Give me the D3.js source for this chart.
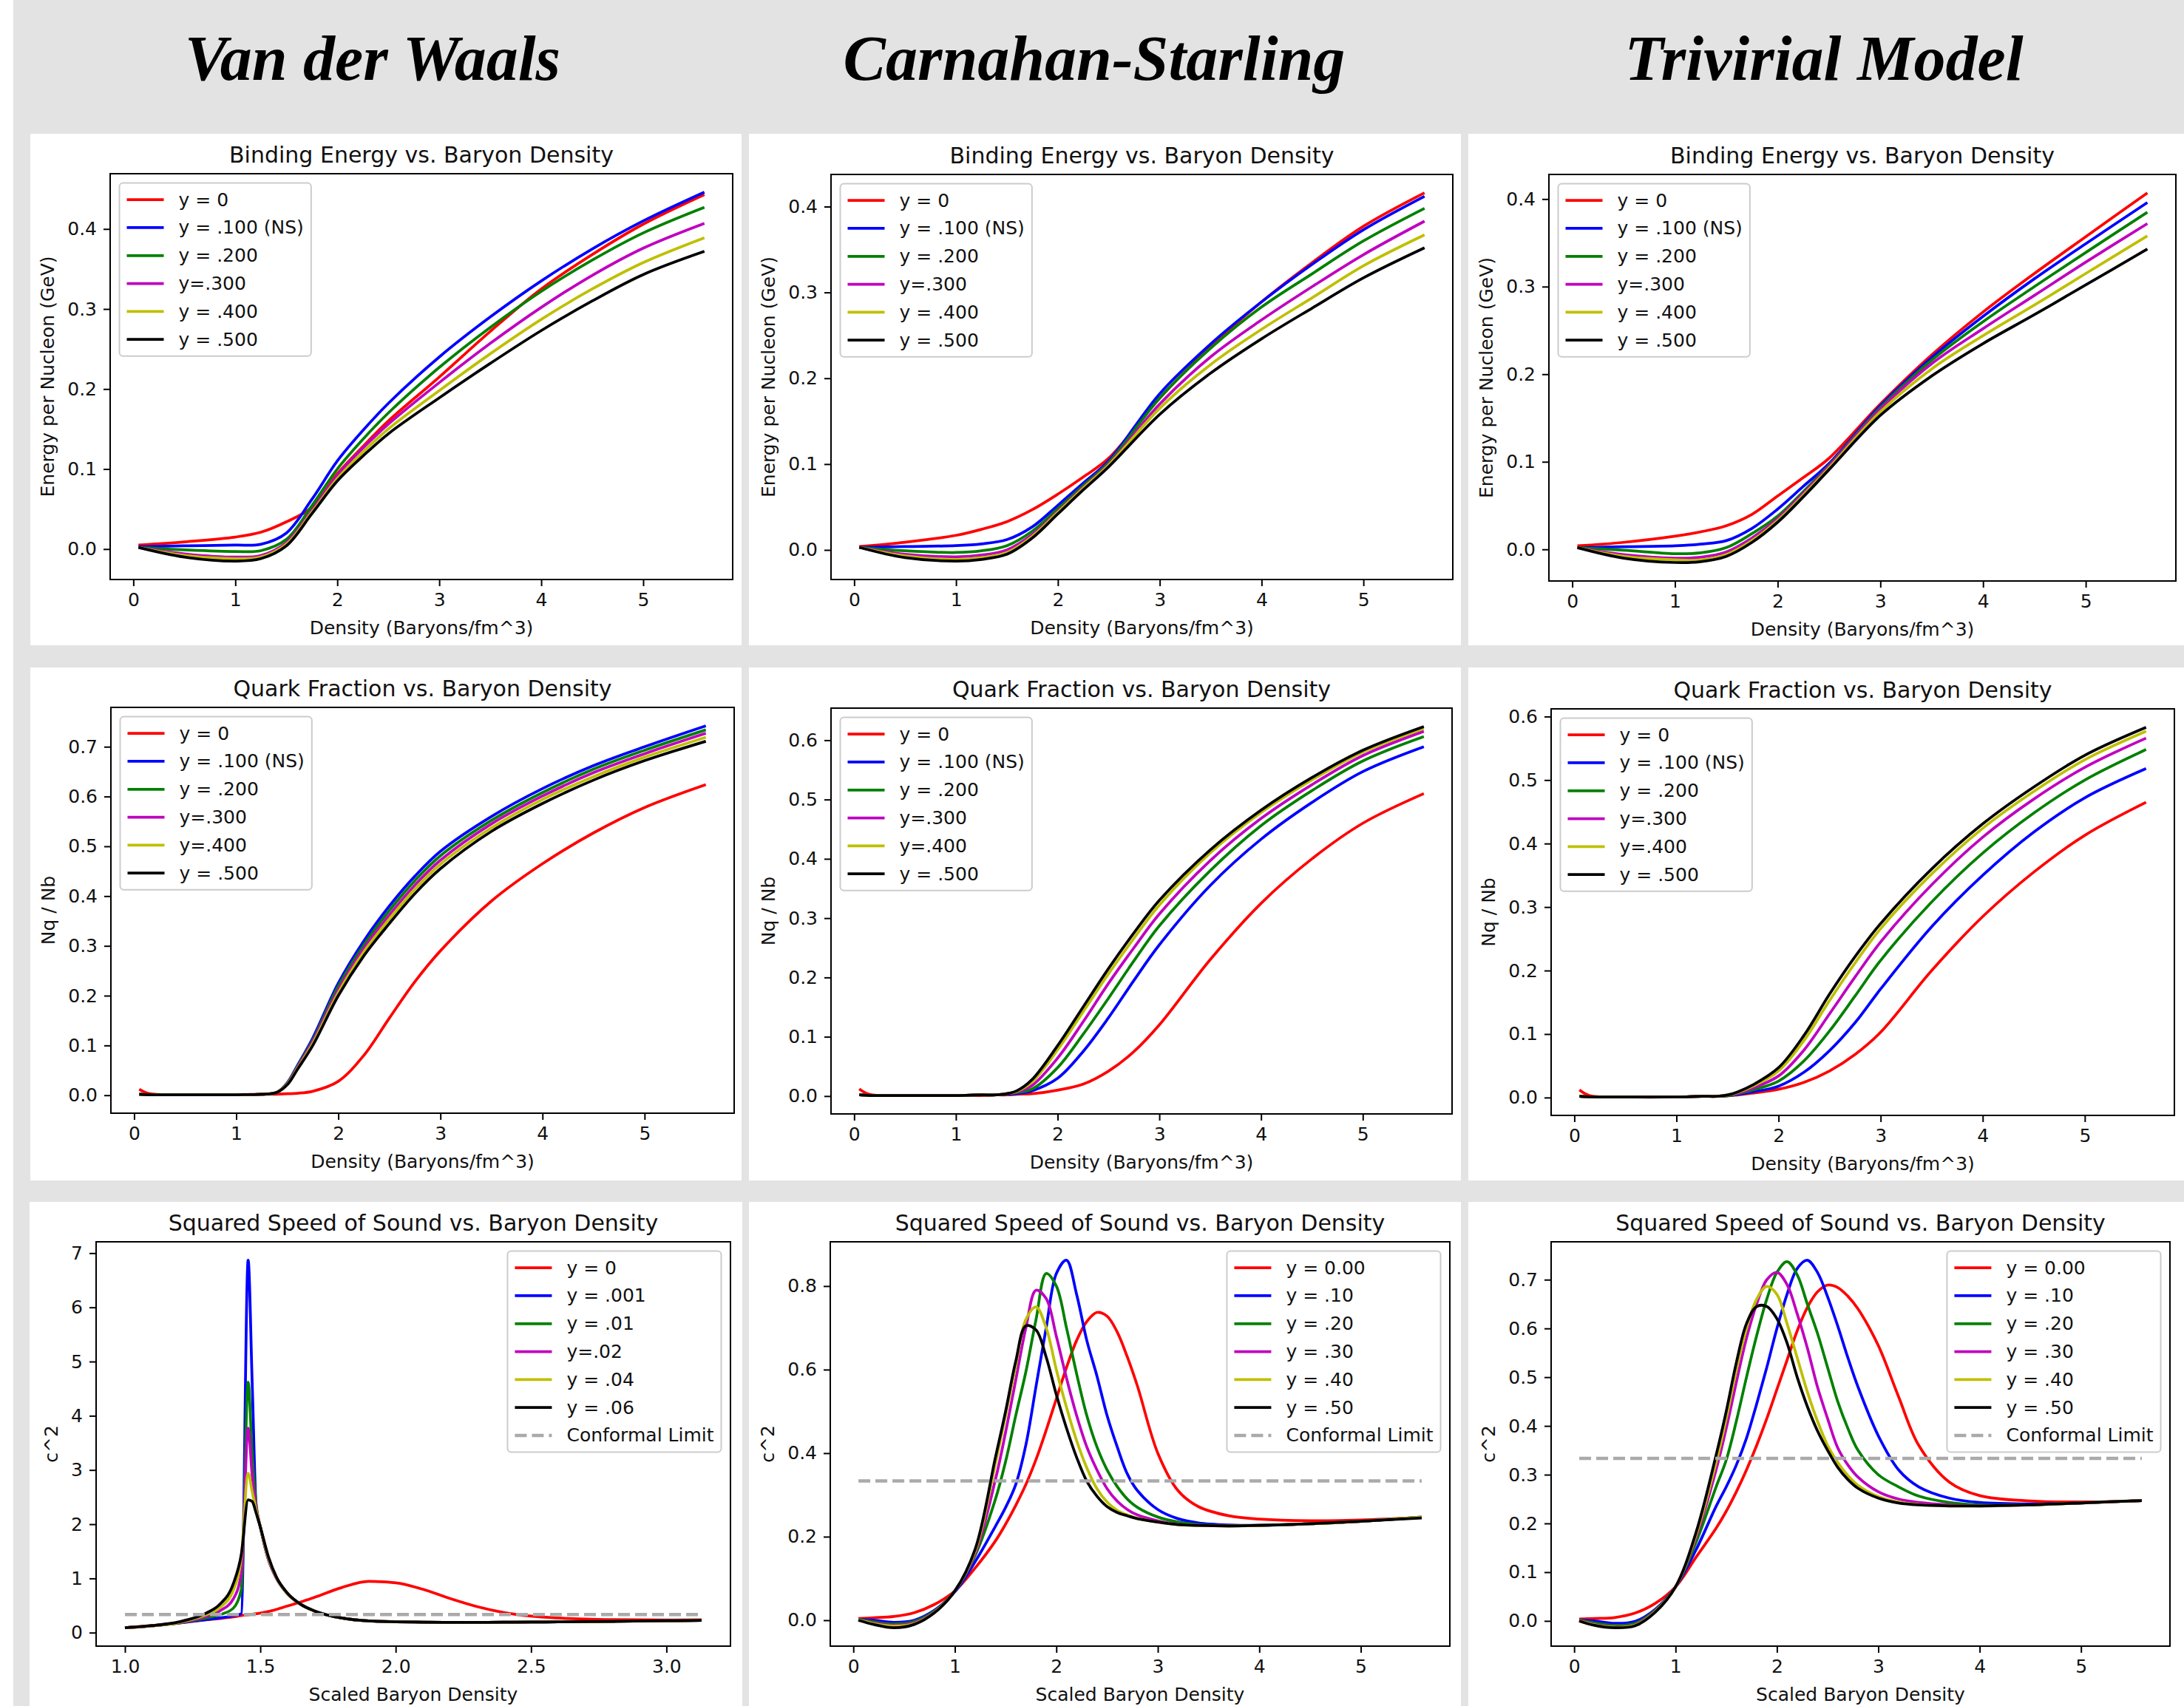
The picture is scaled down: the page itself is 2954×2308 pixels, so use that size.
<!DOCTYPE html>
<html>
<head>
<meta charset="utf-8">
<script src="https://cdn.jsdelivr.net/npm/d3@7"></script>
<style>
  body { margin: 0; background: #e3e3e3; }
  svg text { font-family: "DejaVu Sans", sans-serif; }
</style>
</head>
<body>
<svg id="fig" width="2954" height="2308"></svg>
<script>
// ---- data ----
const modelNames = ["Van der Waals", "Carnahan-Starling", "Trivirial Model"];
const seriesColors = ["#ff0000", "#0000ff", "#008000", "#bf00bf", "#bfbf00", "#000000"];

const bindingLabels = ["y = 0", "y = .100 (NS)", "y = .200", "y=.300", "y = .400", "y = .500"];
const quarkLabels = ["y = 0", "y = .100 (NS)", "y = .200", "y=.300", "y=.400", "y = .500"];
const soundLabelsVdw = ["y = 0", "y = .001", "y = .01", "y=.02", "y = .04", "y = .06"];
const soundLabels = ["y = 0.00", "y = .10", "y = .20", "y = .30", "y = .40", "y = .50"];
const conformalLabel = "Conformal Limit";
const conformalValue = 1 / 3;

// binding energy per nucleon (GeV)
const bindingX = [0.05, 0.5, 1.0, 1.25, 1.5, 1.75, 2.0, 2.25, 2.5, 3.0, 3.5, 4.0, 4.5, 5.0, 5.6];
const bindingVdw = [
  [0.005, 0.009, 0.015, 0.021, 0.034, 0.052, 0.094, 0.128, 0.160, 0.215, 0.272, 0.325, 0.368, 0.406, 0.443],
  [0.003, 0.004, 0.005, 0.006, 0.020, 0.062, 0.110, 0.148, 0.182, 0.240, 0.290, 0.335, 0.375, 0.410, 0.446],
  [0.002, -0.001, -0.003, -0.002, 0.012, 0.054, 0.100, 0.137, 0.170, 0.227, 0.277, 0.322, 0.361, 0.395, 0.427],
  [0.002, -0.006, -0.010, -0.008, 0.008, 0.048, 0.092, 0.126, 0.156, 0.208, 0.257, 0.302, 0.342, 0.376, 0.407],
  [0.002, -0.008, -0.012, -0.010, 0.006, 0.046, 0.088, 0.121, 0.150, 0.198, 0.244, 0.287, 0.325, 0.358, 0.389],
  [0.002, -0.010, -0.015, -0.012, 0.004, 0.044, 0.085, 0.116, 0.144, 0.189, 0.232, 0.273, 0.310, 0.343, 0.372]
];
const bindingCS = [
  [0.004, 0.009, 0.017, 0.024, 0.033, 0.047, 0.065, 0.085, 0.107, 0.177, 0.237, 0.289, 0.335, 0.377, 0.416],
  [0.003, 0.004, 0.005, 0.007, 0.012, 0.027, 0.052, 0.078, 0.104, 0.182, 0.240, 0.289, 0.333, 0.373, 0.412],
  [0.003, -0.001, -0.003, -0.001, 0.005, 0.022, 0.048, 0.075, 0.102, 0.177, 0.235, 0.283, 0.322, 0.360, 0.398],
  [0.003, -0.005, -0.008, -0.006, 0.000, 0.018, 0.045, 0.073, 0.100, 0.170, 0.225, 0.268, 0.307, 0.344, 0.383],
  [0.003, -0.007, -0.011, -0.009, -0.003, 0.016, 0.044, 0.072, 0.099, 0.165, 0.216, 0.257, 0.294, 0.331, 0.367],
  [0.003, -0.009, -0.013, -0.011, -0.005, 0.014, 0.042, 0.070, 0.097, 0.158, 0.206, 0.246, 0.282, 0.317, 0.352]
];
const bindingTrivial = [
  [0.004, 0.008, 0.015, 0.020, 0.027, 0.040, 0.061, 0.082, 0.104, 0.166, 0.222, 0.271, 0.315, 0.357, 0.407],
  [0.002, 0.003, 0.004, 0.006, 0.010, 0.024, 0.046, 0.072, 0.098, 0.164, 0.219, 0.266, 0.309, 0.349, 0.396],
  [0.002, -0.001, -0.005, -0.004, 0.002, 0.018, 0.038, 0.066, 0.096, 0.162, 0.216, 0.260, 0.300, 0.339, 0.385],
  [0.002, -0.006, -0.010, -0.009, -0.003, 0.013, 0.035, 0.064, 0.095, 0.160, 0.212, 0.252, 0.290, 0.328, 0.372],
  [0.002, -0.008, -0.012, -0.012, -0.006, 0.010, 0.033, 0.062, 0.093, 0.157, 0.206, 0.244, 0.279, 0.315, 0.358],
  [0.002, -0.010, -0.015, -0.014, -0.008, 0.008, 0.031, 0.060, 0.091, 0.153, 0.198, 0.235, 0.268, 0.302, 0.343]
];

// quark fraction Nq / Nb
const quarkX = [0.05, 0.15, 0.5, 1.0, 1.25, 1.4, 1.5, 1.6, 1.75, 2.0, 2.25, 2.5, 2.75, 3.0, 3.5, 4.0, 4.5, 5.0, 5.6];
const quarkVdw = [
  [0.012, 0.003, 0.001, 0.001, 0.002, 0.002, 0.003, 0.004, 0.008, 0.028, 0.080, 0.155, 0.228, 0.290, 0.390, 0.465, 0.527, 0.578, 0.624],
  [0.002, 0.001, 0.001, 0.001, 0.002, 0.006, 0.025, 0.060, 0.115, 0.225, 0.310, 0.380, 0.440, 0.490, 0.560, 0.616, 0.662, 0.700, 0.742],
  [0.002, 0.001, 0.001, 0.001, 0.002, 0.006, 0.024, 0.058, 0.111, 0.219, 0.302, 0.371, 0.431, 0.481, 0.552, 0.608, 0.655, 0.693, 0.734],
  [0.002, 0.001, 0.001, 0.001, 0.002, 0.006, 0.023, 0.056, 0.108, 0.212, 0.295, 0.362, 0.422, 0.472, 0.545, 0.601, 0.648, 0.686, 0.727],
  [0.002, 0.001, 0.001, 0.001, 0.002, 0.006, 0.022, 0.054, 0.104, 0.206, 0.288, 0.354, 0.414, 0.464, 0.537, 0.594, 0.640, 0.679, 0.719],
  [0.002, 0.001, 0.001, 0.001, 0.002, 0.006, 0.021, 0.052, 0.100, 0.200, 0.280, 0.345, 0.405, 0.455, 0.530, 0.586, 0.633, 0.672, 0.711]
];
const quarkCS = [
  [0.012, 0.003, 0.001, 0.001, 0.001, 0.002, 0.002, 0.003, 0.004, 0.010, 0.020, 0.042, 0.075, 0.120, 0.230, 0.325, 0.400, 0.460, 0.510],
  [0.002, 0.001, 0.001, 0.001, 0.002, 0.002, 0.003, 0.004, 0.009, 0.030, 0.075, 0.132, 0.195, 0.255, 0.355, 0.433, 0.495, 0.547, 0.589],
  [0.002, 0.001, 0.001, 0.001, 0.002, 0.002, 0.004, 0.006, 0.012, 0.048, 0.104, 0.165, 0.228, 0.287, 0.380, 0.456, 0.515, 0.565, 0.606],
  [0.002, 0.001, 0.001, 0.001, 0.002, 0.002, 0.004, 0.007, 0.018, 0.064, 0.125, 0.190, 0.250, 0.307, 0.397, 0.468, 0.525, 0.574, 0.615],
  [0.002, 0.001, 0.001, 0.001, 0.002, 0.002, 0.004, 0.008, 0.024, 0.078, 0.142, 0.206, 0.266, 0.322, 0.410, 0.478, 0.533, 0.580, 0.620],
  [0.002, 0.001, 0.001, 0.001, 0.002, 0.002, 0.004, 0.009, 0.028, 0.085, 0.150, 0.215, 0.275, 0.330, 0.415, 0.482, 0.537, 0.583, 0.623]
];
const quarkTrivial = [
  [0.012, 0.003, 0.001, 0.001, 0.002, 0.002, 0.003, 0.004, 0.007, 0.013, 0.024, 0.042, 0.068, 0.103, 0.200, 0.285, 0.355, 0.413, 0.465],
  [0.002, 0.001, 0.001, 0.001, 0.002, 0.002, 0.003, 0.005, 0.009, 0.018, 0.040, 0.074, 0.118, 0.171, 0.269, 0.350, 0.418, 0.472, 0.518],
  [0.002, 0.001, 0.001, 0.001, 0.002, 0.002, 0.003, 0.006, 0.012, 0.026, 0.058, 0.105, 0.160, 0.216, 0.308, 0.385, 0.448, 0.500, 0.548],
  [0.002, 0.001, 0.001, 0.001, 0.002, 0.002, 0.004, 0.007, 0.015, 0.034, 0.075, 0.132, 0.190, 0.245, 0.335, 0.410, 0.470, 0.520, 0.566],
  [0.002, 0.001, 0.001, 0.001, 0.002, 0.002, 0.004, 0.008, 0.018, 0.042, 0.090, 0.153, 0.212, 0.266, 0.352, 0.424, 0.482, 0.532, 0.577],
  [0.002, 0.001, 0.001, 0.001, 0.002, 0.002, 0.004, 0.009, 0.020, 0.047, 0.098, 0.163, 0.222, 0.274, 0.360, 0.431, 0.489, 0.539, 0.583]
];

// squared speed of sound c^2
const soundXVdw = [1.0, 1.1, 1.2, 1.3, 1.35, 1.4, 1.43, 1.455, 1.47, 1.485, 1.5, 1.53, 1.56, 1.6, 1.65, 1.7, 1.8, 1.9, 2.0, 2.1, 2.2, 2.3, 2.4, 2.5, 2.6, 2.8, 3.0, 3.13];
const soundVdw = [
  [0.09, 0.13, 0.18, 0.235, 0.26, 0.29, 0.315, 0.33, 0.34, 0.35, 0.36, 0.39, 0.43, 0.49, 0.565, 0.65, 0.83, 0.945, 0.92, 0.80, 0.63, 0.48, 0.37, 0.305, 0.27, 0.24, 0.232, 0.238],
  [0.09, 0.125, 0.18, 0.24, 0.27, 0.31, 0.35, 6.87, 4.6, 2.3, 1.95, 1.35, 1.0, 0.72, 0.52, 0.40, 0.27, 0.215, 0.20, 0.193, 0.19, 0.19, 0.192, 0.195, 0.198, 0.207, 0.218, 0.228],
  [0.09, 0.125, 0.18, 0.27, 0.33, 0.45, 0.80, 4.62, 3.3, 2.35, 1.95, 1.35, 1.0, 0.72, 0.52, 0.40, 0.27, 0.215, 0.20, 0.193, 0.19, 0.19, 0.192, 0.195, 0.198, 0.207, 0.218, 0.228],
  [0.09, 0.125, 0.185, 0.30, 0.40, 0.62, 1.10, 3.77, 2.9, 2.3, 1.95, 1.35, 1.0, 0.72, 0.52, 0.40, 0.27, 0.215, 0.20, 0.193, 0.19, 0.19, 0.192, 0.195, 0.198, 0.207, 0.218, 0.228],
  [0.09, 0.125, 0.19, 0.33, 0.46, 0.78, 1.40, 2.94, 2.6, 2.25, 1.95, 1.37, 1.01, 0.72, 0.52, 0.40, 0.27, 0.215, 0.20, 0.193, 0.19, 0.19, 0.192, 0.195, 0.198, 0.207, 0.218, 0.228],
  [0.09, 0.13, 0.20, 0.36, 0.52, 0.90, 1.45, 2.45, 2.42, 2.2, 1.95, 1.40, 1.02, 0.73, 0.52, 0.40, 0.27, 0.215, 0.20, 0.193, 0.19, 0.19, 0.192, 0.195, 0.198, 0.207, 0.218, 0.228]
];
const soundX = [0.05, 0.2, 0.4, 0.6, 0.8, 1.0, 1.2, 1.4, 1.5, 1.6, 1.7, 1.8, 1.9, 2.0, 2.1, 2.2, 2.3, 2.4, 2.5, 2.6, 2.7, 2.8, 3.0, 3.2, 3.4, 3.7, 4.0, 4.5, 5.0, 5.6];
const soundCS = [
  [0.004, 0.006, 0.009, 0.018, 0.038, 0.07, 0.125, 0.19, 0.23, 0.275, 0.325, 0.385, 0.455, 0.53, 0.605, 0.67, 0.715, 0.737, 0.728, 0.69, 0.63, 0.56, 0.40, 0.31, 0.272, 0.25, 0.242, 0.238, 0.24, 0.246],
  [0.002, 0.0, -0.005, 0.0, 0.024, 0.068, 0.14, 0.225, 0.27, 0.325, 0.42, 0.56, 0.70, 0.83, 0.862, 0.78, 0.67, 0.585, 0.49, 0.415, 0.35, 0.31, 0.265, 0.243, 0.233, 0.228, 0.227, 0.231, 0.237, 0.246],
  [0.002, -0.004, -0.009, -0.003, 0.022, 0.07, 0.155, 0.29, 0.38, 0.49, 0.595, 0.72, 0.83, 0.80, 0.70, 0.59, 0.49, 0.415, 0.36, 0.32, 0.29, 0.27, 0.247, 0.235, 0.229, 0.226, 0.227, 0.231, 0.237, 0.247],
  [0.001, -0.007, -0.012, -0.006, 0.02, 0.07, 0.16, 0.337, 0.45, 0.575, 0.70, 0.79, 0.77, 0.68, 0.58, 0.49, 0.415, 0.36, 0.315, 0.285, 0.265, 0.252, 0.238, 0.23, 0.227, 0.226, 0.227, 0.231, 0.237, 0.247],
  [0.001, -0.008, -0.014, -0.008, 0.019, 0.07, 0.165, 0.375, 0.49, 0.61, 0.72, 0.75, 0.70, 0.60, 0.51, 0.43, 0.365, 0.315, 0.283, 0.263, 0.252, 0.244, 0.235, 0.229, 0.227, 0.226, 0.227, 0.231, 0.237, 0.247],
  [0.0, -0.01, -0.018, -0.01, 0.018, 0.07, 0.17, 0.39, 0.50, 0.62, 0.705, 0.695, 0.63, 0.54, 0.46, 0.39, 0.333, 0.297, 0.272, 0.258, 0.25, 0.243, 0.235, 0.229, 0.227, 0.226, 0.227, 0.231, 0.237, 0.245]
];
const soundTrivial = [
  [0.004, 0.005, 0.007, 0.016, 0.036, 0.07, 0.13, 0.19, 0.225, 0.265, 0.31, 0.36, 0.415, 0.475, 0.535, 0.595, 0.643, 0.675, 0.689, 0.684, 0.666, 0.64, 0.565, 0.46, 0.36, 0.285, 0.257, 0.246, 0.244, 0.247],
  [0.002, 0.0, -0.005, -0.001, 0.024, 0.07, 0.145, 0.235, 0.275, 0.32, 0.375, 0.445, 0.52, 0.60, 0.67, 0.723, 0.74, 0.715, 0.665, 0.605, 0.54, 0.48, 0.38, 0.31, 0.275, 0.252, 0.243, 0.24, 0.242, 0.247],
  [0.002, -0.004, -0.009, -0.005, 0.022, 0.07, 0.16, 0.275, 0.33, 0.41, 0.50, 0.585, 0.66, 0.715, 0.737, 0.71, 0.65, 0.59, 0.52, 0.45, 0.395, 0.35, 0.30, 0.275, 0.256, 0.243, 0.238, 0.238, 0.242, 0.247],
  [0.001, -0.007, -0.012, -0.008, 0.02, 0.07, 0.17, 0.31, 0.395, 0.49, 0.58, 0.65, 0.70, 0.715, 0.69, 0.63, 0.56, 0.48, 0.415, 0.355, 0.32, 0.295, 0.265, 0.25, 0.243, 0.238, 0.236, 0.238, 0.242, 0.247],
  [0.0, -0.008, -0.013, -0.009, 0.019, 0.07, 0.175, 0.325, 0.415, 0.515, 0.60, 0.66, 0.686, 0.67, 0.61, 0.54, 0.47, 0.41, 0.36, 0.325, 0.298, 0.278, 0.255, 0.244, 0.239, 0.236, 0.236, 0.238, 0.242, 0.247],
  [0.0, -0.009, -0.014, -0.01, 0.018, 0.07, 0.18, 0.34, 0.43, 0.53, 0.61, 0.645, 0.645, 0.62, 0.57, 0.50, 0.44, 0.39, 0.35, 0.315, 0.29, 0.272, 0.252, 0.242, 0.238, 0.236, 0.236, 0.238, 0.242, 0.247]
];

// tick values
const densityTicks = [0, 1, 2, 3, 4, 5];
const scaledTicksVdw = [1.0, 1.5, 2.0, 2.5, 3.0];
const bindingTicks = [0.0, 0.1, 0.2, 0.3, 0.4];
const quarkTicksVdw = [0.0, 0.1, 0.2, 0.3, 0.4, 0.5, 0.6, 0.7];
const quarkTicks = [0.0, 0.1, 0.2, 0.3, 0.4, 0.5, 0.6];
const soundTicksVdw = [0, 1, 2, 3, 4, 5, 6, 7];
const soundTicksCS = [0.0, 0.2, 0.4, 0.6, 0.8];
const soundTicksTrivial = [0.0, 0.1, 0.2, 0.3, 0.4, 0.5, 0.6, 0.7];

// ---- layout (pixel boxes of each sub-figure) ----
const headerPos = [[504, 108], [1480, 108], [2467, 108]];
const boxes = [
  { panel: [41, 181, 1003, 873],    axes: [149, 235, 991, 784] },
  { panel: [1013, 181, 1976, 873],  axes: [1124, 236, 1965, 784] },
  { panel: [1986, 181, 2954, 873],  axes: [2095, 236, 2943, 786] },
  { panel: [41, 903, 1003, 1597],   axes: [150, 957, 993, 1506] },
  { panel: [1013, 903, 1976, 1597], axes: [1124, 958, 1964, 1507] },
  { panel: [1986, 903, 2954, 1597], axes: [2098, 959, 2941, 1509] },
  { panel: [40, 1626, 1004, 2308],  axes: [130, 1680, 988, 2227] },
  { panel: [1013, 1626, 1976, 2308], axes: [1123, 1680, 1961, 2227] },
  { panel: [1986, 1626, 2954, 2308], axes: [2098, 1680, 2935, 2227] }
];

const f1 = d3.format(".1f"), f0 = d3.format("d");
const densityLabel = "Density (Baryons/fm^3)", scaledLabel = "Scaled Baryon Density";
const smooth = d3.curveCatmullRom.alpha(0.5), sharp = d3.curveMonotoneX;

const panels = [
  { title: "Binding Energy vs. Baryon Density", xs: bindingX, series: bindingVdw, labels: bindingLabels, xTicks: densityTicks, xFmt: f0, yTicks: bindingTicks, yFmt: f1, xLabel: densityLabel, yLabel: "Energy per Nucleon (GeV)", loc: "left", curve: smooth },
  { title: "Binding Energy vs. Baryon Density", xs: bindingX, series: bindingCS, labels: bindingLabels, xTicks: densityTicks, xFmt: f0, yTicks: bindingTicks, yFmt: f1, xLabel: densityLabel, yLabel: "Energy per Nucleon (GeV)", loc: "left", curve: smooth },
  { title: "Binding Energy vs. Baryon Density", xs: bindingX, series: bindingTrivial, labels: bindingLabels, xTicks: densityTicks, xFmt: f0, yTicks: bindingTicks, yFmt: f1, xLabel: densityLabel, yLabel: "Energy per Nucleon (GeV)", loc: "left", curve: smooth },
  { title: "Quark Fraction vs. Baryon Density", xs: quarkX, series: quarkVdw, labels: quarkLabels, xTicks: densityTicks, xFmt: f0, yTicks: quarkTicksVdw, yFmt: f1, xLabel: densityLabel, yLabel: "Nq / Nb", loc: "left", curve: smooth },
  { title: "Quark Fraction vs. Baryon Density", xs: quarkX, series: quarkCS, labels: quarkLabels, xTicks: densityTicks, xFmt: f0, yTicks: quarkTicks, yFmt: f1, xLabel: densityLabel, yLabel: "Nq / Nb", loc: "left", curve: smooth },
  { title: "Quark Fraction vs. Baryon Density", xs: quarkX, series: quarkTrivial, labels: quarkLabels, xTicks: densityTicks, xFmt: f0, yTicks: quarkTicks, yFmt: f1, xLabel: densityLabel, yLabel: "Nq / Nb", loc: "left", curve: smooth },
  { title: "Squared Speed of Sound vs. Baryon Density", xs: soundXVdw, series: soundVdw, labels: soundLabelsVdw, xTicks: scaledTicksVdw, xFmt: f1, yTicks: soundTicksVdw, yFmt: f0, xLabel: scaledLabel, yLabel: "c^2", loc: "right", conformal: true, curve: sharp },
  { title: "Squared Speed of Sound vs. Baryon Density", xs: soundX, series: soundCS, labels: soundLabels, xTicks: densityTicks, xFmt: f0, yTicks: soundTicksCS, yFmt: f1, xLabel: scaledLabel, yLabel: "c^2", loc: "right", conformal: true, curve: smooth },
  { title: "Squared Speed of Sound vs. Baryon Density", xs: soundX, series: soundTrivial, labels: soundLabels, xTicks: densityTicks, xFmt: f0, yTicks: soundTicksTrivial, yFmt: f1, xLabel: scaledLabel, yLabel: "c^2", loc: "right", conformal: true, curve: smooth }
];

// ---- drawing ----
const svg = d3.select("#fig");
const FS = 25, TEXT = "#111";
const dashColor = "#aaaaaa", dashPattern = "16,7";

svg.append("rect").attr("width", 2954).attr("height", 2308).attr("fill", "#e3e3e3");
svg.append("rect").attr("width", 18).attr("height", 2308).attr("fill", "#ffffff");

svg.selectAll("text.model").data(modelNames).join("text")
  .attr("class", "model")
  .attr("x", (d, i) => headerPos[i][0])
  .attr("y", (d, i) => headerPos[i][1])
  .attr("text-anchor", "middle")
  .style("font-family", "'Liberation Serif', 'Times New Roman', serif")
  .style("font-weight", "bold")
  .style("font-style", "italic")
  .style("font-size", "86px")
  .attr("fill", "#000")
  .text(d => d);

// matplotlib style 5% margins
function pad5(ext) {
  const m = (ext[1] - ext[0]) * 0.05;
  return [ext[0] - m, ext[1] + m];
}

panels.forEach((cfg, k) => drawPanel(cfg, boxes[k], k));

function drawPanel(cfg, box, k) {
  const [px0, py0, px1, py1] = box.panel;
  const [ax0, ay0, ax1, ay1] = box.axes;
  const g = svg.append("g");

  g.append("rect").attr("x", px0).attr("y", py0)
    .attr("width", px1 - px0).attr("height", py1 - py0).attr("fill", "#fff");

  const allY = cfg.series.flat().concat(cfg.conformal ? [conformalValue] : []);
  const x = d3.scaleLinear().domain(pad5(d3.extent(cfg.xs))).range([ax0, ax1]);
  const y = d3.scaleLinear().domain(pad5(d3.extent(allY))).range([ay1, ay0]);

  const clipId = "clip" + k;
  g.append("clipPath").attr("id", clipId).append("rect")
    .attr("x", ax0).attr("y", ay0).attr("width", ax1 - ax0).attr("height", ay1 - ay0);

  const line = d3.line()
    .x((d, i) => x(cfg.xs[i]))
    .y(d => y(d))
    .curve(cfg.curve);

  const plot = g.append("g").attr("clip-path", `url(#${clipId})`);
  plot.selectAll("path.curve").data(cfg.series).join("path")
    .attr("class", "curve")
    .attr("d", line)
    .attr("fill", "none")
    .attr("stroke", (d, i) => seriesColors[i])
    .attr("stroke-width", 3.75)
    .attr("stroke-linejoin", "round")
    .attr("stroke-linecap", "butt");

  if (cfg.conformal) {
    const xr = d3.extent(cfg.xs);
    plot.append("path")
      .attr("d", d3.line().x(d => x(d[0])).y(d => y(d[1]))([[xr[0], conformalValue], [xr[1], conformalValue]]))
      .attr("fill", "none")
      .attr("stroke", dashColor)
      .attr("stroke-width", 4.5)
      .attr("stroke-dasharray", dashPattern);
  }

  // axes
  const gx = g.append("g").attr("transform", `translate(0,${ay1})`)
    .call(d3.axisBottom(x).tickValues(cfg.xTicks).tickFormat(cfg.xFmt).tickSize(9).tickPadding(9).tickSizeOuter(0));
  const gy = g.append("g").attr("transform", `translate(${ax0},0)`)
    .call(d3.axisLeft(y).tickValues(cfg.yTicks).tickFormat(cfg.yFmt).tickSize(9).tickPadding(9).tickSizeOuter(0));
  [gx, gy].forEach(a => {
    a.select(".domain").remove();
    a.attr("font-size", FS).attr("font-family", "DejaVu Sans");
    a.selectAll(".tick line").attr("stroke", "#000").attr("stroke-width", 2);
    a.selectAll(".tick text").attr("fill", TEXT);
  });

  g.append("rect").attr("x", ax0).attr("y", ay0)
    .attr("width", ax1 - ax0).attr("height", ay1 - ay0)
    .attr("fill", "none").attr("stroke", "#000").attr("stroke-width", 2);

  // title and axis labels
  g.append("text").attr("x", (ax0 + ax1) / 2).attr("y", ay0 - 15)
    .attr("text-anchor", "middle").attr("font-size", 30).attr("fill", TEXT).text(cfg.title);
  g.append("text").attr("x", (ax0 + ax1) / 2).attr("y", ay1 + 74)
    .attr("text-anchor", "middle").attr("font-size", FS).attr("fill", TEXT).text(cfg.xLabel);
  const tickLeft = ax0 + gy.node().getBBox().x;
  g.append("text")
    .attr("transform", `translate(${tickLeft - 18},${(ay0 + ay1) / 2}) rotate(-90)`)
    .attr("text-anchor", "middle").attr("font-size", FS).attr("fill", TEXT).text(cfg.yLabel);

  // legend
  const entries = cfg.labels.map((l, i) => ({ label: l, color: seriesColors[i], dash: null }));
  if (cfg.conformal) entries.push({ label: conformalLabel, color: dashColor, dash: dashPattern });
  const lg = g.append("g");
  const frame = lg.append("rect");
  const texts = lg.selectAll("text").data(entries).join("text")
    .attr("font-size", FS).attr("fill", TEXT).attr("dominant-baseline", "central").text(d => d.label);
  const maxW = d3.max(texts.nodes(), n => n.getComputedTextLength());
  const pad = 10, handle = 50, gap = 20, rowH = 25.3, spacing = 12.5;
  const w = pad + handle + gap + maxW + pad;
  const h = 2 * pad + entries.length * rowH + (entries.length - 1) * spacing;
  const lx = cfg.loc === "left" ? ax0 + 12.5 : ax1 - 12.5 - w;
  const ly = ay0 + 12.5;
  frame.attr("x", lx).attr("y", ly).attr("width", w).attr("height", h)
    .attr("rx", 5).attr("fill", "#fff").attr("fill-opacity", 0.8)
    .attr("stroke", "#cccccc").attr("stroke-width", 2);
  const rowY = i => ly + pad + rowH / 2 + i * (rowH + spacing);
  texts.attr("x", lx + pad + handle + gap).attr("y", (d, i) => rowY(i));
  lg.selectAll("line").data(entries).join("line")
    .attr("x1", lx + pad).attr("x2", lx + pad + handle)
    .attr("y1", (d, i) => rowY(i)).attr("y2", (d, i) => rowY(i))
    .attr("stroke", d => d.color)
    .attr("stroke-width", d => d.dash ? 4.5 : 3.75)
    .attr("stroke-dasharray", d => d.dash);
}
</script>
</body>
</html>
